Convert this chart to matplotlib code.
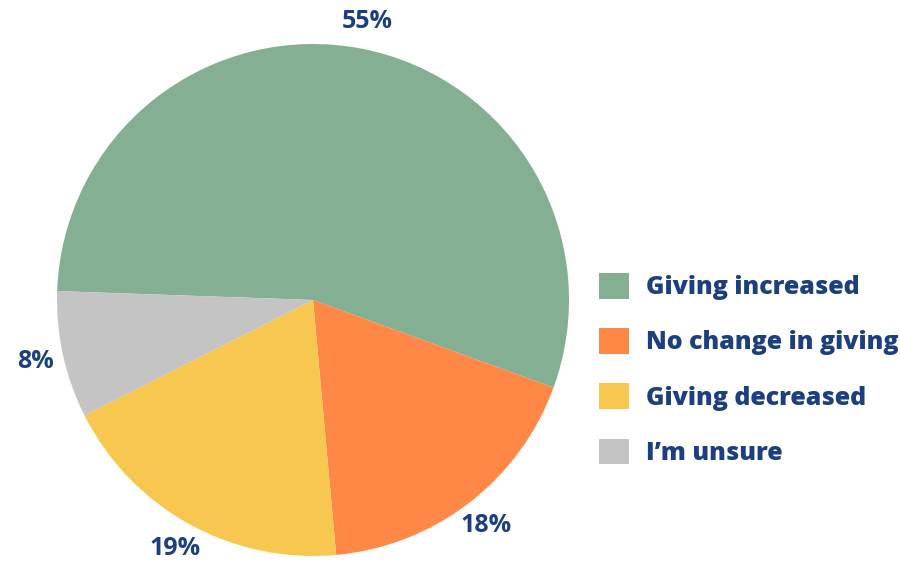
import numpy as np
import matplotlib.pyplot as plt
from matplotlib.patches import Patch

# ====== data ======
labels = ["Giving increased", "No change in giving", "Giving decreased", "I\u2019m unsure"]
values = [55, 18, 19, 8]
colors = ["#84AF93", "#FF8847", "#F8C74F", "#C4C4C4"]
text_color = "#1B3F7F"

plt.rcParams['font.family'] = ['Open Sans', 'DejaVu Sans']

fig = plt.figure(figsize=(9, 5.67), dpi=100)
ax = fig.add_axes([0, 0, 1, 1])

wedges, texts, autotexts = ax.pie(
    values, colors=colors, startangle=178, counterclock=False,
    center=(313, 267), radius=256,
    autopct=lambda p: "%d%%" % round(p), pctdistance=1.11,
    textprops=dict(color=text_color, fontsize=18, fontweight='bold'),
    frame=True,
)
ax.set_xlim(0, 900)
ax.set_ylim(0, 567)
ax.set_aspect('equal')
ax.axis('off')

handles = [Patch(facecolor=c, edgecolor='none') for c in colors]
leg = ax.legend(handles, labels, loc='upper left',
                bbox_to_anchor=(599 / 900, 1 - 273 / 567),
                frameon=False, borderpad=0, borderaxespad=0,
                handlelength=1.2, handleheight=1.2,
                handletextpad=0.7, labelspacing=1.12,
                prop=dict(size=18, weight='heavy'))
for t in leg.get_texts():
    t.set_color(text_color)

fig.savefig("out.png", dpi=100)
